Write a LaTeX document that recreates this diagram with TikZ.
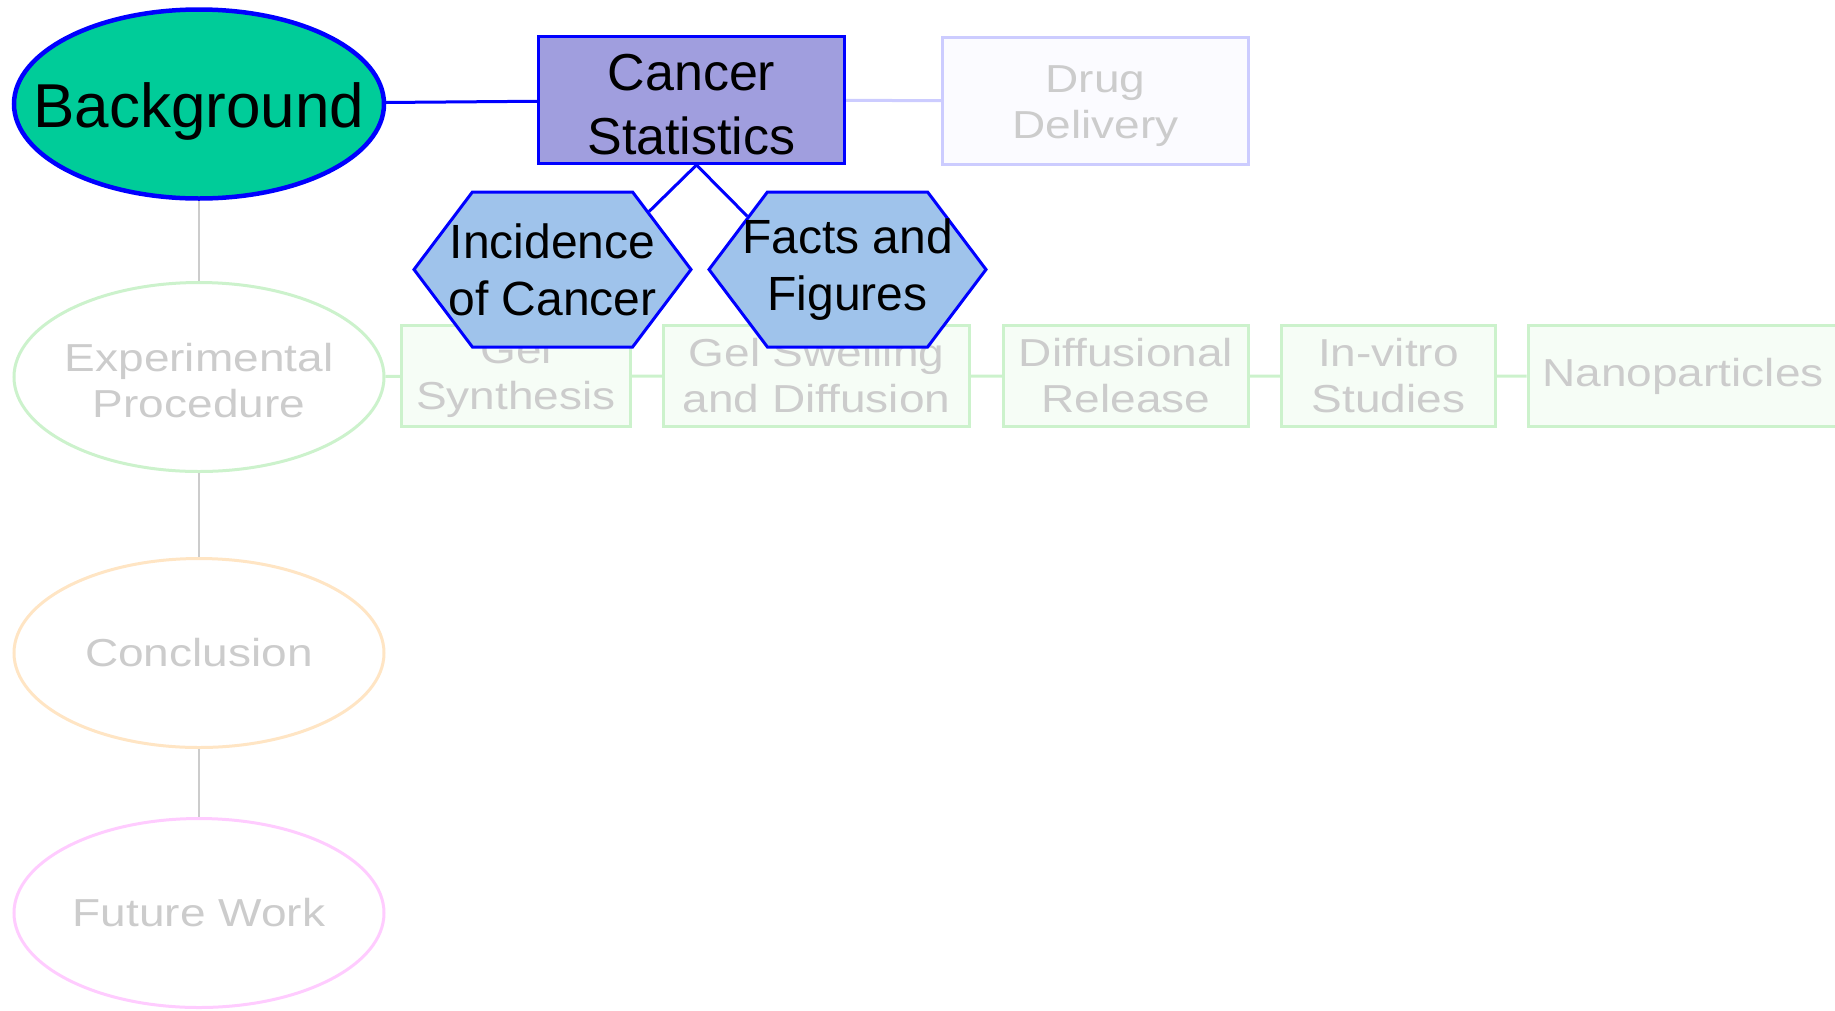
\documentclass[tikz,border=0pt]{standalone}
\usepackage{fontspec}
\setmainfont{Liberation Sans}
\newfontfamily\palefont[FakeStretch=1.18]{Liberation Sans}
\usepackage{tikz}
\usetikzlibrary{shapes.geometric,shapes.symbols}

\definecolor{topicgreen}{HTML}{00CC99}
\definecolor{statviolet}{HTML}{A09EDE}
\definecolor{subblue}{HTML}{9FC3EB}
\definecolor{palegray}{HTML}{CCCCCC}
\definecolor{palelilac}{HTML}{CCCCFF}
\definecolor{lilacfill}{HTML}{FBFBFF}
\definecolor{palegreen}{HTML}{CCF2CC}
\definecolor{greenfill}{HTML}{F6FDF6}
\definecolor{palepeach}{HTML}{FFE5C4}
\definecolor{palepink}{HTML}{FFCCFF}

% text that may stick out of its shape
\newcommand{\overhang}[1]{\makebox[0pt]{#1}}
% invisible strut, pushes a text block down a little
\newcommand{\tallline}[1]{\rule{0pt}{#1}}

\begin{document}
\begin{tikzpicture}[x=1pt, y=-1pt,
    topic/.style={ellipse, minimum width=370pt, minimum height=189pt,
        line width=3pt, fill=white, align=center, inner sep=0pt},
    pale/.style={text=palegray, font=\palefont\fontsize{39}{46}\selectfont},
    box/.style={rectangle, line width=3pt, align=center, inner sep=0pt},
    rowbox/.style={box, pale, draw=palegreen, fill=greenfill, minimum height=101pt},
    hexa/.style={signal, signal to=west and east, signal pointer angle=106,
        draw=blue, line width=3pt, fill=subblue, minimum width=277pt,
        minimum height=155pt, inner sep=0pt, align=center,
        font=\fontsize{48}{57}\selectfont},
    link/.style={line width=3pt}
]
    %% Page
    \useasboundingbox (0,0) rectangle (1835,1010);

    %% Main topics
    \node[topic, draw=blue, line width=4.5pt, fill=topicgreen, text height=59pt,
        text depth=13pt, font=\fontsize{62}{70}\selectfont] (bg) at (199,104)
        {\overhang{Background}};
    \node[topic, pale, draw=palegreen] (ep) at (199,377)
        {\overhang{\tallline{34.5pt}Experimental}\\\overhang{Procedure}};
    \node[topic, pale, draw=palepeach] (con) at (199,653) {Conclusion};
    \node[topic, pale, draw=palepink] (fw) at (199,913) {Future Work};

    %% Background branch
    \node[box, draw=blue, fill=statviolet, minimum width=306pt, minimum height=127pt,
        font=\fontsize{52}{64}\selectfont] (cs) at (691.5,100)
        {\tallline{45pt}Cancer\\Statistics};
    \node[box, pale, draw=palelilac, fill=lilacfill, minimum width=306pt,
        minimum height=127pt] (dd) at (1095.5,101) {\tallline{37.5pt}Drug\\Delivery};

    %% Procedure branch
    \node[rowbox, minimum width=229pt] (gs) at (516,376) {Gel\\Synthesis};
    \node[rowbox, minimum width=306pt] (gsd) at (816.5,376) {Gel Swelling\\and Diffusion};
    \node[rowbox, minimum width=245pt] (dr) at (1126,376) {Diffusional\\Release};
    \node[rowbox, minimum width=214pt] (iv) at (1388.5,376) {In-vitro\\Studies};
    \node[rowbox, minimum width=310pt] (np) at (1683,376) {Nanoparticles};

    %% Links
    \draw[palegray, line width=2pt] (bg) -- (ep) (ep) -- (con) (con) -- (fw);
    \draw[link, palegreen] (ep) -- (gs) (gs) -- (gsd) (gsd) -- (dr) (dr) -- (iv) (iv) -- (np);
    \draw[link, palelilac] (cs) -- (dd);
    \draw[link, blue] (bg) -- (cs);

    %% Statistics details
    \node[hexa] (inc) at (552.5,269.5) {\overhang{Incidence}\\\overhang{of Cancer}};
    \node[hexa] (ff) at (847.5,269.5) {\overhang{Facts and}\\\overhang{Figures}};

    \draw[link, blue] ([xshift=5pt]cs.south) -- (inc.31);
    \draw[link, blue] ([xshift=5pt]cs.south) -- (ff.152);

\end{tikzpicture}
\end{document}
